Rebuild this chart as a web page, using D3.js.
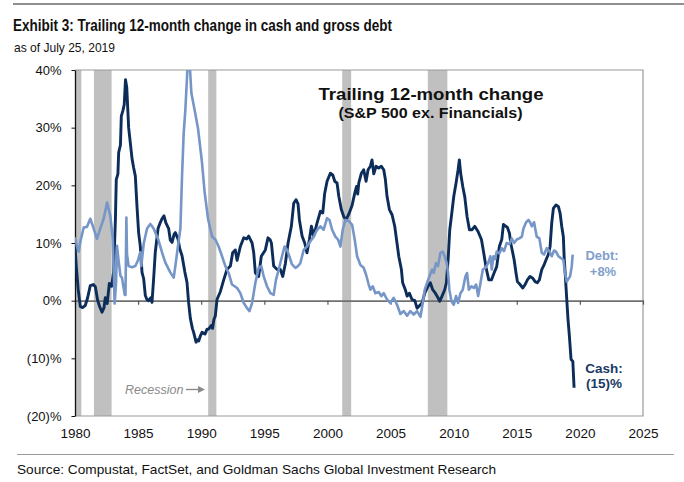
<!DOCTYPE html>
<html>
<head>
<meta charset="utf-8">
<script src="https://cdn.jsdelivr.net/npm/d3@7"></script>
<style>
  body { margin: 0; background: #fff; }
  svg { display: block; font-family: "Liberation Sans", Arial, sans-serif; }
</style>
</head>
<body>
<div id="chart"></div>
<script>
const width = 684;
const height = 482;
const plot = { left: 75, right: 643, top: 70, bottom: 416 };

const cashColor = "#0c2d5a";
const debtColor = "#7596c7";

// recession bands (decimal years)
const recessionStart = [1980.0, 1981.5, 1990.55, 2001.17, 2007.95];
const recessionEnd   = [1980.5, 1982.9, 1991.2, 2001.88, 2009.5];

const yTicks = [-20, -10, 0, 10, 20, 30, 40];
const xTicks = [1980, 1985, 1990, 1995, 2000, 2005, 2010, 2015, 2020, 2025];

// trailing 12-month change in cash, %
const cashYears = [1980.0, 1980.1, 1980.25, 1980.42, 1980.6, 1980.82, 1981.0, 1981.21, 1981.45, 1981.61,
  1981.8, 1981.95, 1982.14, 1982.3, 1982.4, 1982.55, 1982.72, 1982.9, 1983.06, 1983.2,
  1983.27, 1983.4, 1983.46, 1983.6, 1983.67, 1983.8, 1983.9, 1984.0, 1984.1, 1984.25,
  1984.4, 1984.52, 1984.65, 1984.78, 1984.91, 1985.04, 1985.17, 1985.31, 1985.44, 1985.57,
  1985.7, 1985.84, 1986.0, 1986.1, 1986.23, 1986.36, 1986.58, 1986.75, 1986.89, 1987.05,
  1987.2, 1987.42, 1987.55, 1987.69, 1987.85, 1987.95, 1988.16, 1988.3, 1988.48, 1988.7,
  1988.87, 1989.0, 1989.14, 1989.3, 1989.4, 1989.59, 1989.7, 1989.8, 1989.95, 1990.06,
  1990.3, 1990.45, 1990.6, 1990.8, 1990.9, 1991.0, 1991.12, 1991.25, 1991.52, 1991.78,
  1992.04, 1992.31, 1992.49, 1992.7, 1992.84, 1993.1, 1993.37, 1993.6, 1993.76, 1994.03,
  1994.16, 1994.29, 1994.55, 1994.76, 1995.08, 1995.29, 1995.45, 1995.56, 1995.74, 1996.01,
  1996.27, 1996.46, 1996.67, 1996.88, 1997.14, 1997.33, 1997.51, 1997.67, 1997.78, 1997.99,
  1998.2, 1998.38, 1998.57, 1998.73, 1998.91, 1999.18, 1999.44, 1999.63, 1999.78, 1999.97,
  2000.23, 2000.42, 2000.58, 2000.76, 2000.9, 2001.1, 2001.29, 2001.47, 2001.69, 2001.95,
  2002.16, 2002.3, 2002.4, 2002.48, 2002.69, 2002.87, 2003.06, 2003.22, 2003.4, 2003.53,
  2003.67, 2003.85, 2004.06, 2004.27, 2004.46, 2004.59, 2004.72, 2004.91, 2005.12, 2005.33,
  2005.51, 2005.65, 2005.86, 2005.96, 2006.17, 2006.31, 2006.49, 2006.7, 2006.92, 2007.1,
  2007.23, 2007.5, 2007.71, 2007.97, 2008.15, 2008.34, 2008.55, 2008.76, 2008.9, 2009.08,
  2009.29, 2009.42, 2009.56, 2009.69, 2009.82, 2010.01, 2010.19, 2010.35, 2010.45, 2010.56,
  2010.72, 2010.88, 2011.06, 2011.25, 2011.46, 2011.67, 2011.93, 2012.2, 2012.38, 2012.57,
  2012.78, 2012.99, 2013.2, 2013.41, 2013.62, 2013.81, 2013.94, 2014.07, 2014.26, 2014.42,
  2014.52, 2014.68, 2014.79, 2014.94, 2015.05, 2015.26, 2015.48, 2015.66, 2015.84, 2016.05,
  2016.27, 2016.45, 2016.63, 2016.79, 2016.98, 2017.16, 2017.32, 2017.5, 2017.64, 2017.77,
  2017.9, 2018.11, 2018.3, 2018.43, 2018.56, 2018.69, 2018.75, 2018.85, 2018.96, 2019.06,
  2019.17, 2019.3, 2019.44, 2019.54];
const cashValues = [9.5, 6, 2, -1, -1.2, -0.8, 0.5, 2.6, 2.8, 2.4,
  0, -1, -2, -1.2, 0.5, -0.5, 3, 2.5, 5, 14,
  21, 22, 25.7, 27, 32, 33, 34, 38.3, 37, 30,
  27, 24.6, 23, 21.6, 16.4, 11.8, 9.5, 4.9, 3.8, 0.9,
  0.2, 0, 0.5, -0.3, 3.8, 8.4, 12.5, 13.5, 14.2, 14.7,
  13.5, 12.5, 10.5, 10.1, 11.5, 11.8, 10.7, 9, 7.8, 5,
  3.2, -0.3, -3.1, -4.8, -5.5, -7.2, -6.8, -7, -6, -5.5,
  -5.8, -5, -4.9, -4.3, -4.8, -3.3, -2.6, 0.2, 1.6, 3.6,
  5.4, 6, 8.3, 8.8, 7, 9.4, 10.9, 10.7, 11.2, 10,
  8.3, 4.8, 4.2, 7.7, 8.8, 10.9, 10.6, 10, 6, 5.4,
  5.4, 4.2, 6.5, 10, 12.9, 16.9, 17.5, 16.8, 14, 11.2,
  10, 8.3, 10.6, 12.9, 11.2, 13.5, 15.5, 15.2, 18.6, 20.7,
  22.1, 21.8, 20.7, 20.4, 18.1, 15.8, 14.6, 14, 15, 16.5,
  18.6, 19.8, 18.5, 20.4, 22.1, 22.7, 20.7, 22.7, 23.3, 24.4,
  22, 23.3, 23, 23.3, 22.7, 21, 18.1, 15.8, 14.9, 12.9,
  10, 7.7, 5.4, 3.1, 1.9, 0.8, 1.3, 0.2, 0, -1.3,
  -1, -0.4, 1.3, 2.5, 3.1, 1.9, 1.3, 0.5, -0.1, 0.8,
  1.9, 3.1, 7.1, 12.3, 14.6, 18.1, 20.4, 22.7, 24.4, 22,
  19.8, 18, 14.6, 12.3, 12.3, 12.9, 12, 10.6, 8.3, 5.7,
  3.6, 3.6, 4.8, 5.9, 9.4, 10.6, 13.2, 13, 12.7, 11.7,
  10, 8.3, 7.1, 4.8, 3.3, 2.8, 2.2, 2.8, 3.6, 4.2,
  3.9, 3.3, 3.1, 3.6, 5.4, 6.2, 7.1, 8, 9.4, 13.5,
  16, 16.6, 16.3, 15.2, 12.9, 11.1, 7.7, 4.2, 0.2, -3.3,
  -6.2, -10.2, -10.5, -15.1];

// trailing 12-month change in gross debt, %
const debtYears = [1980.0, 1980.15, 1980.29, 1980.45, 1980.69, 1980.95, 1981.21, 1981.48, 1981.74, 1982.0,
  1982.27, 1982.54, 1982.8, 1982.99, 1983.06, 1983.14, 1983.25, 1983.33, 1983.45, 1983.6,
  1983.72, 1983.94, 1984.0, 1984.07, 1984.12, 1984.25, 1984.52, 1984.78, 1984.99, 1985.17,
  1985.25, 1985.45, 1985.71, 1985.97, 1986.23, 1986.58, 1986.89, 1987.16, 1987.55, 1987.82,
  1987.95, 1988.16, 1988.35, 1988.48, 1988.61, 1988.74, 1988.95, 1989.06, 1989.22, 1989.48,
  1989.75, 1990.06, 1990.27, 1990.54, 1990.86, 1991.12, 1991.38, 1991.65, 1991.91, 1992.17,
  1992.44, 1992.84, 1993.1, 1993.37, 1993.63, 1993.82, 1994.03, 1994.29, 1994.55, 1994.76,
  1994.95, 1995.21, 1995.48, 1995.74, 1995.92, 1996.14, 1996.4, 1996.61, 1996.8, 1996.98,
  1997.19, 1997.46, 1997.67, 1997.85, 1998.12, 1998.38, 1998.65, 1998.91, 1999.18, 1999.44,
  1999.7, 1999.97, 2000.16, 2000.37, 2000.63, 2000.84, 2001.03, 2001.21, 2001.42, 2001.69,
  2001.95, 2002.16, 2002.35, 2002.61, 2002.87, 2003.06, 2003.27, 2003.4, 2003.59, 2003.8,
  2004.06, 2004.27, 2004.46, 2004.72, 2004.99, 2005.25, 2005.51, 2005.78, 2006.04, 2006.31,
  2006.57, 2006.84, 2007.1, 2007.37, 2007.55, 2007.71, 2007.9, 2008.08, 2008.29, 2008.42,
  2008.6, 2008.76, 2008.95, 2009.13, 2009.29, 2009.45, 2009.56, 2009.66, 2009.82, 2010.01,
  2010.19, 2010.35, 2010.54, 2010.72, 2010.93, 2011.06, 2011.2, 2011.41, 2011.6, 2011.78,
  2011.94, 2012.13, 2012.31, 2012.52, 2012.73, 2012.91, 2013.02, 2013.15, 2013.28, 2013.41,
  2013.62, 2013.81, 2013.99, 2014.2, 2014.42, 2014.6, 2014.79, 2015.0, 2015.2, 2015.4,
  2015.53, 2015.74, 2015.93, 2016.05, 2016.19, 2016.37, 2016.58, 2016.79, 2016.98, 2017.16,
  2017.37, 2017.58, 2017.77, 2017.95, 2018.11, 2018.3, 2018.48, 2018.69, 2018.82, 2018.96,
  2019.09, 2019.22, 2019.35, 2019.43];
const debtValues = [11, 9.5, 8.5, 10.5, 12.7, 12.8, 14.2, 12.5, 10.7, 12.5,
  14.2, 17, 14.7, 10.7, 6, -0.5, 3, 9.5, 7, 4.3,
  4, 1, 1, 14.4, 8, 6, 5.8, 6, 7, 8.4,
  6, 10, 12.5, 13.3, 12.5, 10.7, 8.4, 6.6, 4.9, 4,
  6, 9.5, 12.5, 21.6, 29, 33, 42, 42, 36, 33,
  29.8, 24, 18.8, 14.2, 11.1, 10.6, 9.4, 7.7, 6, 4.8,
  2.8, 2.2, 1.3, -0.4, -1.3, -1.8, -0.4, 3.1, 5.7, 6,
  4.2, 2.5, 1.3, 1, 3.6, 5.4, 7.7, 9.4, 8.8, 7.7,
  6.3, 5.7, 6, 6.5, 8.8, 9.4, 10.3, 11.1, 12.3, 12.9,
  12.3, 14.3, 14, 12.3, 11.1, 10.6, 9.4, 12.3, 14, 13.8,
  13.2, 10.6, 7.7, 6.2, 5.7, 4.5, 2.8, 1.9, 2.5, 1.3,
  1.5, 0.8, 1.3, 0.2, -0.4, 0.5, -0.7, -2.3, -1.8, -2.6,
  -1.8, -2.4, -1.8, -2.8, -0.4, 1.9, 3.1, 4.2, 5.4, 4.8,
  6.5, 6, 8.3, 8.5, 7.7, 6.5, 4.8, 1.9, -0.1, -0.7,
  0.8, -0.4, 1.3, 1.9, 4.2, 4.8, 1.9, 2.5, 2.2, 2.8,
  0.8, 3.1, 5.4, 5.7, 6.5, 7.7, 5.4, 7.7, 7.2, 8.5,
  8.2, 9.1, 8.6, 10, 9.8, 10.8, 10, 10.6, 10.8, 11.1,
  12.5, 13.6, 14, 13.6, 12.9, 13.6, 11.1, 10.8, 8.3, 8,
  9.1, 8.6, 7.7, 8.7, 8.5, 7.7, 7.4, 7.1, 4.8, 3.3,
  3.8, 4.2, 5.9, 8];

const svg = d3.select("#chart").append("svg")
    .attr("width", width)
    .attr("height", height);

svg.append("rect").attr("width", width).attr("height", height).attr("fill", "#fff");

const x = d3.scaleLinear().domain([1980, 2025]).range([plot.left, plot.right]);
const y = d3.scaleLinear().domain([-20, 40]).range([plot.bottom, plot.top]);

// header
svg.append("line")
    .attr("x1", 13).attr("x2", width).attr("y1", 4).attr("y2", 4)
    .attr("stroke", "#8f8f8f").attr("stroke-width", 2);

svg.append("text")
    .attr("x", 13).attr("y", 30.5)
    .attr("textLength", 379).attr("lengthAdjust", "spacingAndGlyphs")
    .style("font-family", "'Liberation Sans Narrow', 'Arial Narrow', 'Liberation Sans', sans-serif")
    .style("font-weight", "bold").style("font-size", "16.5px").attr("fill", "#111")
    .text("Exhibit 3: Trailing 12-month change in cash and gross debt");

svg.append("text")
    .attr("x", 14).attr("y", 52)
    .attr("textLength", 101).attr("lengthAdjust", "spacingAndGlyphs")
    .style("font-family", "'Liberation Sans Narrow', 'Arial Narrow', 'Liberation Sans', sans-serif")
    .style("font-size", "13.5px").attr("fill", "#111")
    .text("as of July 25, 2019");

// recession bands
svg.append("g").selectAll("rect")
    .data(recessionStart)
    .enter()
    .append("rect")
    .attr("x", (d, i) => x(d))
    .attr("width", (d, i) => x(recessionEnd[i]) - x(d))
    .attr("y", plot.top)
    .attr("height", plot.bottom - plot.top)
    .attr("fill", "#c0c0c0");

// frame (top, right, bottom)
svg.append("path")
    .attr("d", "M" + plot.left + "," + plot.top + "H" + plot.right + "V" + plot.bottom + "H" + plot.left)
    .attr("fill", "none").attr("stroke", "#9a9a9a").attr("stroke-width", 1.2);

// zero line with the year ticks
const zeroAxis = svg.append("g")
    .attr("transform", "translate(0," + y(0) + ")")
    .call(d3.axisBottom(x).tickValues(xTicks).tickSize(4).tickSizeOuter(0).tickFormat(""));
zeroAxis.select(".domain").attr("stroke", "#707070").attr("stroke-width", 1.6);
zeroAxis.selectAll(".tick line").attr("stroke", "#555").attr("stroke-width", 1.2);

// year labels along the bottom
const xLabels = svg.append("g")
    .attr("transform", "translate(0," + plot.bottom + ")")
    .call(d3.axisBottom(x).tickValues(xTicks).tickSize(0).tickPadding(12.5).tickFormat(d3.format("d")));
xLabels.select(".domain").remove();
xLabels.selectAll("text").style("font-size", "13.5px").attr("fill", "#111")
    .style("font-family", "'Liberation Sans', Arial, sans-serif");

// y axis
const yAxis = svg.append("g")
    .attr("transform", "translate(" + plot.left + ",0)")
    .call(d3.axisLeft(y).tickValues(yTicks).tickSize(3.5).tickSizeOuter(0).tickPadding(10)
        .tickFormat(d => d < 0 ? "(" + (-d) + ")%" : d + "%"));
yAxis.select(".domain").attr("stroke", "#111").attr("stroke-width", 1.3);
yAxis.selectAll(".tick line").attr("stroke", "#111");
yAxis.selectAll("text").style("font-size", "13px").attr("fill", "#111")
    .style("font-family", "'Liberation Sans', Arial, sans-serif");

// lines
svg.append("clipPath").attr("id", "plotClip")
    .append("rect")
    .attr("x", plot.left).attr("y", plot.top)
    .attr("width", plot.right - plot.left).attr("height", plot.bottom - plot.top);

const lineGen = d3.line()
    .x(d => x(d[0]))
    .y(d => y(d[1]));

const cashData = cashYears.map((t, i) => [t, cashValues[i]]);
const debtData = debtYears.map((t, i) => [t, debtValues[i]]);

const lines = svg.append("g").attr("clip-path", "url(#plotClip)");
lines.append("path")
    .datum(cashData)
    .attr("d", lineGen)
    .attr("fill", "none")
    .attr("stroke", cashColor)
    .attr("stroke-width", 2.9)
    .attr("stroke-linejoin", "round");
lines.append("path")
    .datum(debtData)
    .attr("d", lineGen)
    .attr("fill", "none")
    .attr("stroke", debtColor)
    .attr("stroke-width", 2.6)
    .attr("stroke-linejoin", "round");

// chart annotations
svg.append("text")
    .attr("x", 431).attr("y", 99.5)
    .attr("text-anchor", "middle")
    .attr("textLength", 225).attr("lengthAdjust", "spacingAndGlyphs")
    .style("font-weight", "bold").style("font-size", "17px").attr("fill", "#111")
    .text("Trailing 12-month change");
svg.append("text")
    .attr("x", 430.5).attr("y", 118)
    .attr("text-anchor", "middle")
    .attr("textLength", 184).attr("lengthAdjust", "spacingAndGlyphs")
    .style("font-weight", "bold").style("font-size", "14px").attr("fill", "#111")
    .text("(S&P 500 ex. Financials)");

svg.append("text")
    .attr("x", 125).attr("y", 393.5)
    .style("font-style", "italic").style("font-size", "12.5px").attr("fill", "#8a8a8a")
    .text("Recession");
svg.append("line")
    .attr("x1", 186).attr("x2", 199).attr("y1", 389.5).attr("y2", 389.5)
    .attr("stroke", "#8a8a8a").attr("stroke-width", 1.4);
svg.append("path")
    .attr("d", "M198,386 L205,389.5 L198,393 Z")
    .attr("fill", "#8a8a8a");

const debtLabel = svg.append("text")
    .attr("text-anchor", "middle")
    .style("font-weight", "bold").style("font-size", "13px").attr("fill", "#7f9fcc");
debtLabel.append("tspan").attr("x", 602).attr("y", 260).text("Debt:");
debtLabel.append("tspan").attr("x", 603).attr("y", 275.5).text("+8%");

const cashLabel = svg.append("text")
    .attr("text-anchor", "middle")
    .style("font-weight", "bold").style("font-size", "13.5px").attr("fill", "#1a3a66");
cashLabel.append("tspan").attr("x", 604).attr("y", 372.5).text("Cash:");
cashLabel.append("tspan").attr("x", 604).attr("y", 387.5).text("(15)%");

// footer
svg.append("line")
    .attr("x1", 17).attr("x2", 674).attr("y1", 454.5).attr("y2", 454.5)
    .attr("stroke", "#9a9a9a").attr("stroke-width", 1.2);
svg.append("text")
    .attr("x", 17).attr("y", 473.5)
    .attr("textLength", 479).attr("lengthAdjust", "spacingAndGlyphs")
    .style("font-size", "13.5px").attr("fill", "#111")
    .text("Source: Compustat, FactSet, and Goldman Sachs Global Investment Research");
</script>
</body>
</html>
